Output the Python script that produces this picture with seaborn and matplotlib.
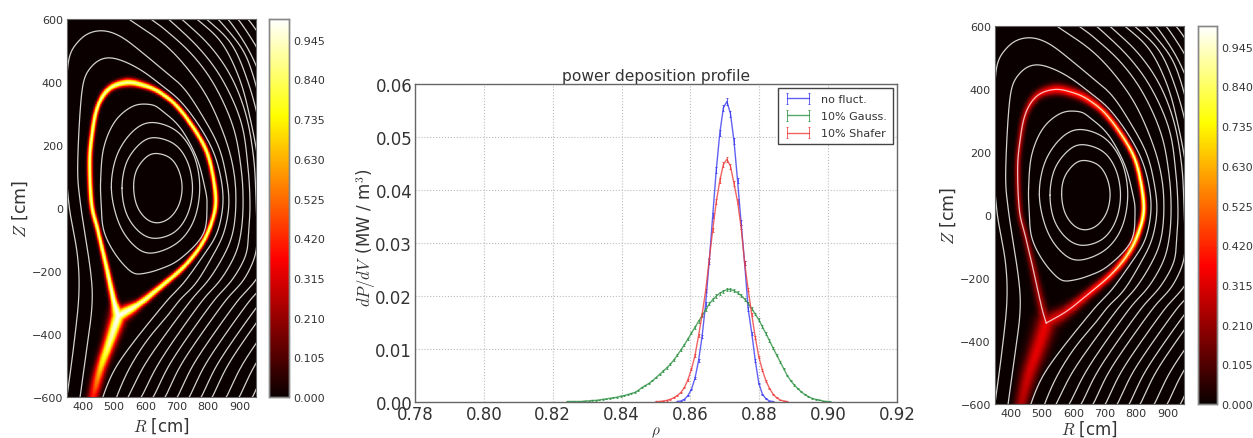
import numpy as np
import pandas as pd
import matplotlib
matplotlib.use("Agg")
import matplotlib.pyplot as plt
import seaborn as sns

# --- middle panel values ---
rho = 0.8706 + np.arange(-50, 31) * 0.00103

no_fluct = [0.0] * 36 + [0.0001, 0.0002, 0.0005, 0.0012, 0.0024, 0.0045, 0.0078, 0.0124, 0.0185, 0.0265,
                         0.0352, 0.0438, 0.0508, 0.0555, 0.0567, 0.0544, 0.0492, 0.0418, 0.0338, 0.0262,
                         0.0175, 0.0130, 0.0078, 0.0035, 0.0015, 0.0006, 0.0002, 0.0001] + [0.0] * 17
shafer = [0.0] * 30 + [0.0001, 0.0001, 0.0002, 0.0003, 0.0005, 0.0008, 0.0012, 0.0018, 0.0027, 0.0042,
                       0.0062, 0.0088, 0.0125, 0.0165, 0.0210, 0.0268, 0.0325, 0.0378, 0.0418, 0.0448,
                       0.0458, 0.0445, 0.0412, 0.0378, 0.0330, 0.0262, 0.0212, 0.0165, 0.0122, 0.0085,
                       0.0060, 0.0040, 0.0026, 0.0015, 0.0008, 0.0004, 0.0002, 0.0001] + [0.0] * 13
gauss = [0.0] * 5 + [0.0001, 0.0001, 0.0001, 0.0001, 0.0001, 0.0002, 0.0002, 0.0003, 0.0003, 0.0004,
                     0.0005, 0.0006, 0.0007, 0.0008, 0.0009, 0.0011, 0.0012, 0.0014, 0.0016, 0.0018,
                     0.0022, 0.0027, 0.0031, 0.0035, 0.0040, 0.0046, 0.0052, 0.0058, 0.0064, 0.0071,
                     0.0079, 0.0088, 0.0098, 0.0108, 0.0119, 0.0130, 0.0141, 0.0152, 0.0163, 0.0174,
                     0.0185, 0.0193, 0.0200, 0.0205, 0.0209, 0.0212, 0.0212, 0.0210, 0.0206, 0.0201,
                     0.0194, 0.0186, 0.0176, 0.0166, 0.0155, 0.0142, 0.0129, 0.0116, 0.0102, 0.0089,
                     0.0076, 0.0063, 0.0050, 0.0040, 0.0032, 0.0025, 0.0019, 0.0014, 0.0010, 0.0007,
                     0.0005, 0.0004, 0.0002, 0.0001, 0.0001, 0.0]
series_names = ["no fluct.", "10% Gauss.", "10% Shafer"]
series_colors = ["#3a3af0", "#2f9244", "#ee3b3b"]
series_err = [0.0006, 0.0003, 0.0005]

x_ticks = [0.78, 0.80, 0.82, 0.84, 0.86, 0.88, 0.90, 0.92]
y_ticks = [0.00, 0.01, 0.02, 0.03, 0.04, 0.05, 0.06]

# --- side panels: separatrix ridge, R and Z in cm ---
ring_R = [513, 499, 473, 448, 428, 422, 428, 446, 483, 541, 600, 646, 699, 752, 794, 816, 824, 805, 773, 720, 646, 579, 513]
ring_Z = [-343, -295, -178, -72, 12, 139, 224, 319, 378, 399, 388, 367, 325, 256, 182, 97, 12, -62, -125, -189, -252, -305, -343]
leg_R = [513, 483, 457, 435, 429]
leg_Z = [-343, -433, -507, -591, -623]

left_ring_val = [1.0, .98, .9, .9, .9, .9, .9, .9, .9, .9, .88, .88, .88, .88, .88, .88, .88, .88, .88, .88, .88, .92, 1.0]
left_ring_w = [16, 8, 6, 5.5, 5.5, 5.5, 5.5, 5.5, 7, 8.5, 7, 6, 5.5, 5.5, 5.5, 5.5, 5.5, 5.5, 5.5, 6, 7, 9, 16]
left_leg_val = [1.0, .9, .7, .42, .34]
left_leg_w = [16, 13, 12, 12, 12]

right_ring_val = [.3, .24, .22, .22, .24, .26, .26, .28, .33, .38, .42, .46, .52, .62, .74, .82, .85, .78, .65, .48, .38, .32, .3]
right_ring_w = [20, 11, 9, 8, 7, 7, 7, 8, 10, 12, 11, 10, 8, 7, 6, 6, 6, 7, 8, 9, 11, 14, 20]
right_leg_val = [.33, .33, .3, .25, .2]
right_leg_w = [22, 20, 18, 15, 15]

# closed flux surfaces
closed_surfaces = [
    ([562, 570, 599, 630, 678, 706, 717, 706, 676, 636, 600, 572], [65, 118, 159, 174, 160, 120, 65, 8, -33, -48, -33, 8]),
    ([525, 539, 580, 626, 694, 735, 750, 735, 694, 630, 580, 539], [63, 144, 202, 224, 202, 144, 63, -18, -76, -97, -76, -18]),
    ([491, 509, 560, 620, 700, 754, 773, 754, 700, 614, 556, 512], [65, 168, 244, 272, 244, 168, 65, -40, -112, -144, -112, -40]),
    ([457, 467, 504, 563, 621, 646, 710, 763, 789, 796, 784, 710, 646, 593, 557, 504, 467, 459],
     [87, 192, 277, 325, 328, 314, 256, 160, 65, 12, -83, -162, -194, -208, -205, -147, -72, 12]),
]
# open flux lines
open_lines = [
    ([345, 351, 372, 388, 383, 356, 346, 353, 388, 425, 473, 526, 589, 653, 720, 778, 832, 857, 866, 850, 815, 760, 710, 680, 605, 548, 509, 498],
     [-634, -591, -433, -274, -147, 12, 187, 457, 531, 558, 563, 542, 494, 441, 383, 298, 198, 102, 12, -78, -150, -240, -290, -330, -420, -510, -597, -634]),
    ([387, 393, 415, 430, 425, 393, 384, 399, 430, 473, 526, 589, 653, 710, 768, 815, 840, 847, 828, 785, 720, 672, 560, 500, 465, 455],
     [-634, -591, -433, -305, -200, 12, 139, 383, 452, 478, 468, 436, 388, 341, 266, 182, 97, 12, -80, -150, -240, -290, -428, -515, -597, -634]),
    ([519, 546, 653, 731, 800, 855, 882, 888, 878, 850, 800, 747, 650, 590, 547, 530],
     [621, 600, 526, 446, 346, 219, 113, 12, -80, -150, -230, -290, -420, -510, -597, -625]),
    ([588, 616, 653, 747, 821, 880, 905, 911, 904, 885, 838, 784, 690, 632, 589, 570],
     [621, 600, 574, 489, 388, 256, 123, 12, -80, -150, -230, -290, -420, -510, -597, -625]),
    ([646, 673, 773, 847, 905, 926, 933, 928, 920, 875, 821, 727, 669, 627, 608],
     [621, 600, 505, 404, 272, 134, 12, -80, -150, -230, -290, -420, -510, -597, -625]),
    ([689, 715, 805, 874, 921, 945, 952, 955, 950, 912, 858, 764, 706, 665, 646],
     [621, 600, 515, 415, 293, 155, 28, -80, -150, -230, -290, -420, -510, -597, -625]),
    ([736, 763, 842, 900, 934, 958, 965], [621, 600, 526, 409, 282, 155, 60]),
    ([768, 794, 874, 927, 964, 980], [621, 600, 521, 399, 261, 150]),
    ([805, 831, 905, 940, 975], [621, 600, 510, 430, 300]),
    ([837, 863, 927, 969, 990], [621, 600, 505, 409, 320]),
    ([868, 895, 960, 990], [621, 600, 500, 420]),
    ([900, 927, 974, 1000], [621, 600, 531, 470]),
]
# the lines in the lower right corner run nearly parallel
lower_R = [955, 950, 912, 858, 764, 706, 665, 646]
lower_Z = [-80, -150, -230, -290, -420, -510, -597, -625]
lower_shifts = [39, 77, 115, 150, 195, 236, 278]

R_ticks = [400, 500, 600, 700, 800, 900]
Z_ticks = [-600, -400, -200, 0, 200, 400, 600]
Z_tick_labels = ["\u2212600", "\u2212400", "\u2212200", "0", "200", "400", "600"]
cbar_ticks = [0.0, 0.105, 0.21, 0.315, 0.42, 0.525, 0.63, 0.735, 0.84, 0.945]

R_min, R_max = 350, 952
Z_min, Z_max = -600, 600
n_R, n_Z = 480, 960

sns.set_style("white")
plt.rcParams["font.family"] = ["DejaVu Sans"]
plt.rcParams["mathtext.fontset"] = "cm"
text_color = "#333333"
spine_color = "#666666"
line_color = "#d2d2d2"
W, H = 1253, 439


def catmull(R, Z, n=20, closed=False):
    p = np.column_stack([R, Z]).astype(float)
    if closed:
        p = np.vstack([p[-1], p, p[0], p[1]])
    else:
        p = np.vstack([2 * p[0] - p[1], p, 2 * p[-1] - p[-2]])
    t = np.linspace(0, 1, n, endpoint=False)[:, None]
    out = []
    for i in range(1, len(p) - 2):
        p0, p1, p2, p3 = p[i - 1], p[i], p[i + 1], p[i + 2]
        out.append(0.5 * (2 * p1 + (p2 - p0) * t + (2 * p0 - 5 * p1 + 4 * p2 - p3) * t ** 2
                          + (3 * p1 - p0 - 3 * p2 + p3) * t ** 3))
    out.append(p[-2][None, :])
    return np.vstack(out)


def smooth(R, Z, win=41, closed=False, step=1.0):
    # curve through the read points, evened out along its length to take out reading wobble
    c = catmull(R, Z, closed=closed)
    seg = np.hypot(*np.diff(c, axis=0).T)
    s = np.concatenate([[0], np.cumsum(seg)])
    si = np.arange(0, s[-1], step)
    idx = np.interp(si, s, np.arange(len(c)) / 20)
    x = np.interp(si, s, c[:, 0])
    y = np.interp(si, s, c[:, 1])
    kernel = np.convolve(np.ones(win) / win, np.ones(win) / win)
    m = min(len(kernel) // 2, len(x) - 1)
    if closed:
        px = np.concatenate([x[-m:], x, x[:m]])
        py = np.concatenate([y[-m:], y, y[:m]])
    else:
        px = np.concatenate([2 * x[0] - x[m:0:-1], x, 2 * x[-1] - x[-2:-m - 2:-1]])
        py = np.concatenate([2 * y[0] - y[m:0:-1], y, 2 * y[-1] - y[-2:-m - 2:-1]])
    sx = np.convolve(px, kernel, mode="same")[m:-m]
    sy = np.convolve(py, kernel, mode="same")[m:-m]
    return sx, sy, idx


def ridge(field, gR, gZ, R, Z, val, w):
    sR, sZ, idx = smooth(R, Z, win=11, step=1.0)
    sv = np.interp(idx, np.arange(len(val)), val)
    sw = np.interp(idx, np.arange(len(w)), w)
    for r, z, v, s in zip(sR, sZ, sv, sw):
        # only touch the cells near this sample
        i0, i1 = np.searchsorted(gR, [r - 5 * s, r + 5 * s])
        j0, j1 = np.searchsorted(-gZ, [-z - 5 * s, -z + 5 * s])
        rr, zz = np.meshgrid(gR[i0:i1], gZ[j0:j1])
        patch = v * np.exp(-((rr - r) ** 2 + (zz - z) ** 2) / (2 * s * s))
        field[j0:j1, i0:i1] = np.maximum(field[j0:j1, i0:i1], patch)
    return field


def make_field(ring_val, ring_w, leg_val, leg_w):
    gR = np.linspace(R_min, R_max, n_R)
    gZ = np.linspace(Z_max, Z_min, n_Z)
    field = np.zeros((n_Z, n_R))
    field = ridge(field, gR, gZ, ring_R, ring_Z, ring_val, ring_w)
    field = ridge(field, gR, gZ, leg_R, leg_Z, leg_val, leg_w)
    return field


def cell_x(R):
    return (np.asarray(R, dtype=float) - R_min) / (R_max - R_min) * n_R


def cell_y(Z):
    return (Z_max - np.asarray(Z, dtype=float)) / (Z_max - Z_min) * n_Z


def add_axes_px(fig, left, top, right, bottom):
    return fig.add_axes([left / W, 1 - bottom / H, (right - left) / W, (bottom - top) / H])


def side_panel(fig, box, cbox, field, xpad, separatrix=False):
    ax = add_axes_px(fig, *box)
    cax = add_axes_px(fig, *cbox)
    sns.heatmap(field, ax=ax, cbar_ax=cax, cmap="hot", vmin=0, vmax=1, xticklabels=False, yticklabels=False,
                cbar_kws={"ticks": cbar_ticks, "format": "%.3f"}, rasterized=True)
    for R, Z in closed_surfaces:
        sR, sZ, _ = smooth(R, Z, win=25, closed=True)
        ax.plot(cell_x(np.append(sR, sR[0])), cell_y(np.append(sZ, sZ[0])), color=line_color, lw=0.9)
    for R, Z in open_lines:
        sR, sZ, _ = smooth(R, Z)
        ax.plot(cell_x(sR), cell_y(sZ), color=line_color, lw=0.9)
    for shift in lower_shifts:
        sR, sZ, _ = smooth(np.array(lower_R) + shift, lower_Z)
        ax.plot(cell_x(sR), cell_y(sZ), color=line_color, lw=0.9)
    if separatrix:
        sR, sZ, _ = smooth(ring_R, ring_Z, win=11, step=2.0)
        ax.plot(cell_x(sR), cell_y(sZ), color="white", lw=0.9, alpha=0.75)
    ax.set_xticks(cell_x(R_ticks))
    ax.set_xticklabels([str(r) for r in R_ticks])
    ax.set_yticks(cell_y(Z_ticks))
    ax.set_yticklabels(Z_tick_labels, rotation=0)
    ax.tick_params(labelsize=8, length=0, pad=3, labelcolor=text_color)
    ax.set_xlabel("$R$ [cm]", fontsize=12, color=text_color, labelpad=xpad)
    ax.set_ylabel("$Z$ [cm]", fontsize=12.5, color=text_color, labelpad=2)
    for s in ax.spines.values():
        s.set_visible(True)
        s.set_color(spine_color)
        s.set_linewidth(0.8)
    ax.set_xlim(0, n_R)
    ax.set_ylim(n_Z, 0)
    cax.tick_params(labelsize=8, length=3, direction="in", pad=3, labelcolor=text_color, color=spine_color, right=True)
    for s in cax.spines.values():
        s.set_visible(True)
        s.set_color("#888888")
        s.set_linewidth(1.0)


fig = plt.figure(figsize=(W / 100, H / 100), dpi=100)

side_panel(fig, (67, 20, 256, 398), (269, 20, 289, 398),
           make_field(left_ring_val, left_ring_w, left_leg_val, left_leg_w), 3)
side_panel(fig, (995, 27, 1184, 405), (1198, 27, 1217, 405),
           make_field(right_ring_val, right_ring_w, right_leg_val, right_leg_w), 0, separatrix=True)

# middle panel
ax = add_axes_px(fig, 415, 85, 897, 403)
profiles = pd.DataFrame({"rho": rho, "no fluct.": no_fluct, "10% Gauss.": gauss, "10% Shafer": shafer})
for name, color, err in zip(series_names, series_colors, series_err):
    shown = profiles[profiles[name] > 0]
    yerr = err * np.sqrt(shown[name] / shown[name].max())
    ax.errorbar(shown["rho"], shown[name], yerr=yerr, color=color, lw=1.0, alpha=0.8,
                capsize=1.0, elinewidth=0.7, capthick=0.7, label=name)
ax.set_xlim(0.78, 0.92)
ax.set_ylim(0, 0.06)
ax.set_xticks(x_ticks)
ax.set_yticks(y_ticks)
ax.set_xticklabels(["%.2f" % v for v in x_ticks])
ax.set_yticklabels(["%.2f" % v for v in y_ticks])
ax.tick_params(labelsize=12, length=0, pad=2, labelcolor=text_color)
ax.grid(True, color="#bbbbbb", ls=":", lw=0.8)
ax.set_axisbelow(True)
ax.set_title("power deposition profile", fontsize=11.2, color=text_color, pad=3)
ax.set_xlabel(r"$\rho$", fontsize=11, color=text_color, labelpad=1)
ax.set_ylabel(r"$dP/dV\,$ (MW / m$^3$)", fontsize=12, color=text_color, labelpad=-2, y=0.52)
for s in ax.spines.values():
    s.set_visible(True)
    s.set_color(spine_color)
    s.set_linewidth(1.0)
leg = ax.legend(loc="upper right", numpoints=2, fontsize=8, frameon=True, fancybox=False, framealpha=1,
                edgecolor="#444444", borderaxespad=0.4, handlelength=2.6, labelspacing=0.65, borderpad=0.5)
for t in leg.get_texts():
    t.set_color(text_color)

fig.savefig("out.png", dpi=100)
